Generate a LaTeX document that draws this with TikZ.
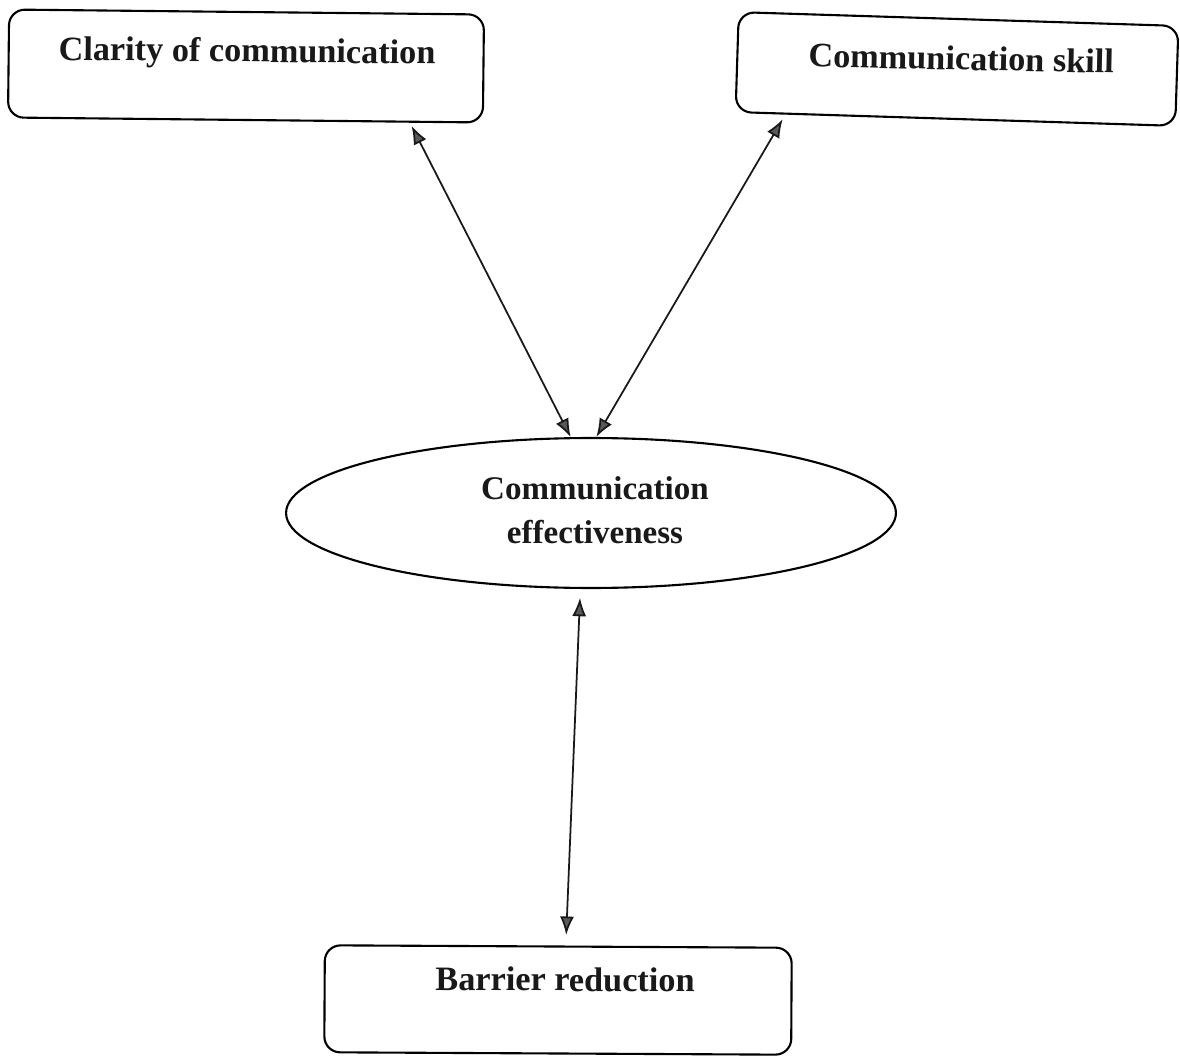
\documentclass[tikz,border=0pt]{standalone}
\usepackage{fontspec}
\setmainfont{Liberation Serif}
\usetikzlibrary{shapes.geometric,arrows.meta,calc}
\tikzset{
  box/.style={draw=black, line width=1.2pt, rounded corners=9pt, inner sep=0pt},
  oval/.style={draw=black, ellipse, line width=1.2pt, inner sep=0pt},
  lbl/.style={font=\bfseries\fontsize{19.5}{23}\selectfont, inner sep=0pt, anchor=base, text=black!90},
  conn/.style={line width=1pt, {Latex[length=10.5pt,width=8pt,fill=black!65]}-{Latex[length=10.5pt,width=8pt,fill=black!65]}, draw=black!90}
}
\begin{document}
\begin{tikzpicture}[x=0.02cm, y=-0.02cm]
\useasboundingbox[fill=white] (0,0) rectangle (1180,1064);
% boxes
\node[box, rotate=-0.6, minimum width=9.5cm, minimum height=2.16cm] (clarity) at (246,66) {};
\node[lbl, rotate=-0.6] (claritytext) at (247,62) {Clarity of communication};
\node[box, rotate=-1.8, minimum width=8.8cm, minimum height=2.0cm] (skill) at (957,69) {};
\node[lbl, rotate=-1.2] (skilltext) at (961,70) {Communication skill};
\node[oval, minimum width=12.2cm, minimum height=3.0cm] (eff) at (591,513) {};
\node[lbl, anchor=center, align=center, font=\bfseries\fontsize{18.8}{25}\selectfont] (efftext) at (595,510) {Communication\\effectiveness};
\node[box, rotate=-0.3, minimum width=9.34cm, minimum height=2.14cm] (barrier) at (558,1000) {};
\node[lbl, rotate=-0.3] (barriertext) at (565,991) {Barrier reduction};
% connectors
\draw[conn, shorten <=2pt] ($(clarity.south west)!0.845!(clarity.south east)$) -- (eff.105.7);
\draw[conn, shorten <=3pt] ($(skill.south west)!0.115!(skill.south east)$) -- (eff.86.2);
\draw[conn, shorten <=5pt, shorten >=6pt] (eff.262.4) -- ($(barrier.north west)!0.516!(barrier.north east)$);
\end{tikzpicture}
\end{document}
